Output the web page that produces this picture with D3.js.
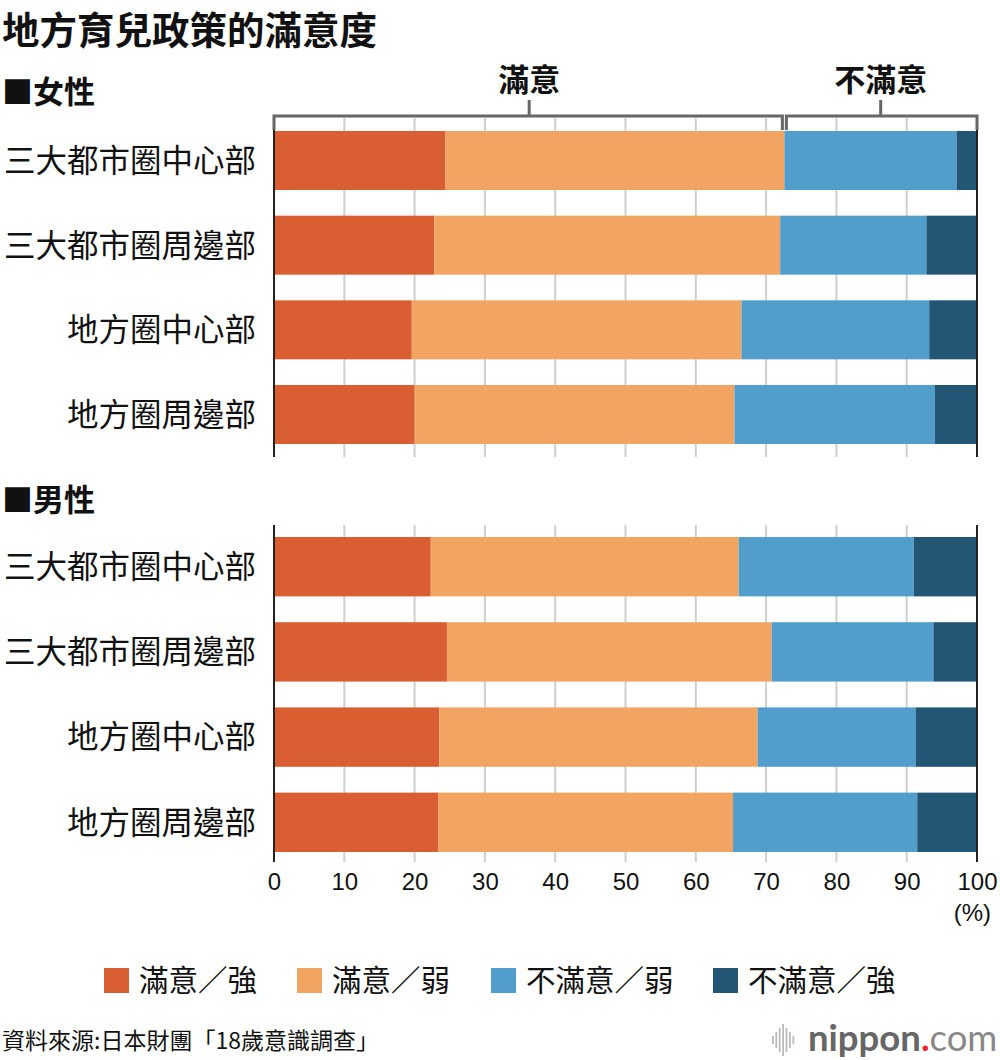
<!DOCTYPE html>
<html>
<head>
<meta charset="utf-8">
<script src="https://cdn.jsdelivr.net/npm/d3@7"></script>
<style>
  body { margin: 0; background: #fff; }
  svg { display: block; font-family: "Noto Sans CJK TC", "Noto Sans", sans-serif; }
  .num { font-family: "Liberation Sans", Arial, sans-serif; }
</style>
</head>
<body>
<svg id="chart" width="1000" height="1060"></svg>
<script>
// data (percent)
var categories = ["三大都市圈中心部", "三大都市圈周邊部", "地方圈中心部", "地方圈周邊部"];
var seriesNames = ["滿意／強", "滿意／弱", "不滿意／弱", "不滿意／強"];
var colors = ["#d95f33", "#f2a463", "#519dcb", "#235675"];
var femaleStrongSat = [24.4, 22.8, 19.6, 20.0];
var femaleWeakSat   = [48.2, 49.2, 46.9, 45.5];
var femaleWeakDis   = [24.5, 20.8, 26.7, 28.5];
var femaleStrongDis = [2.9, 7.2, 6.8, 6.0];
var maleStrongSat = [22.3, 24.6, 23.5, 23.4];
var maleWeakSat   = [43.8, 46.2, 45.3, 41.9];
var maleWeakDis   = [24.9, 23.0, 22.5, 26.2];
var maleStrongDis = [9.0, 6.2, 8.7, 8.5];
var xTicks = [0, 10, 20, 30, 40, 50, 60, 70, 80, 90, 100];

var svg = d3.select("#chart");
var x = d3.scaleLinear().domain([0, 100]).range([274, 977]);

function toRows(a, b, c, d) {
  return categories.map(function(cat, i) {
    return { cat: cat, vals: [a[i], b[i], c[i], d[i]] };
  });
}

var groups = [
  { title: "■女性", titleY: 103, barTop: 131, barBottom: 444, gridTop: 118, gridBottom: 457,
    rows: toRows(femaleStrongSat, femaleWeakSat, femaleWeakDis, femaleStrongDis) },
  { title: "■男性", titleY: 511, barTop: 537, barBottom: 852, gridTop: 525, gridBottom: 862,
    rows: toRows(maleStrongSat, maleWeakSat, maleWeakDis, maleStrongDis) }
];

// title
svg.append("text").attr("x", 2).attr("y", 44)
  .attr("font-size", 37.5).attr("font-weight", "bold").attr("fill", "#111")
  .text("地方育兒政策的滿意度");

groups.forEach(function(g) {
  var y = d3.scaleBand().domain(categories)
    .range([g.barTop, g.barBottom]).paddingInner(0.303).paddingOuter(0);

  svg.append("text").attr("x", 2).attr("y", g.titleY)
    .attr("font-size", 31).attr("font-weight", "bold").attr("fill", "#111")
    .text(g.title);

  // grid
  svg.append("g").selectAll("line").data(xTicks.slice(1, -1)).enter().append("line")
    .attr("x1", function(d) { return x(d); }).attr("x2", function(d) { return x(d); })
    .attr("y1", g.gridTop).attr("y2", g.gridBottom)
    .attr("stroke", "#cfcfcf").attr("stroke-width", 2);

  // bars
  var row = svg.append("g").selectAll("g").data(g.rows).enter().append("g");
  row.selectAll("rect").data(function(r) {
      var acc = 0;
      return r.vals.map(function(v, k) {
        var s = { cat: r.cat, x0: acc, x1: acc + v, k: k };
        acc += v;
        return s;
      });
    }).enter().append("rect")
    .attr("x", function(d) { return x(d.x0); })
    .attr("width", function(d) { return x(Math.min(d.x1, 100)) - x(d.x0); })
    .attr("y", function(d) { return y(d.cat); })
    .attr("height", y.bandwidth())
    .attr("fill", function(d) { return colors[d.k]; });

  row.append("text")
    .attr("x", 256).attr("y", function(r) { return y(r.cat) + y.bandwidth() / 2; })
    .attr("dy", "0.36em").attr("text-anchor", "end")
    .attr("font-size", 31.5).attr("fill", "#111")
    .text(function(r) { return r.cat; });

  // edge lines
  svg.append("g").selectAll("line").data([0, 100]).enter().append("line")
    .attr("x1", function(d) { return x(d); }).attr("x2", function(d) { return x(d); })
    .attr("y1", g.gridTop).attr("y2", g.gridBottom)
    .attr("stroke", "#222").attr("stroke-width", 2);
});

// bracket over female first row
var split = femaleStrongSat[0] + femaleWeakSat[0];
var brackets = [
  { label: "滿意", x0: 0, x1: split, dx0: 0, dx1: -2 },
  { label: "不滿意", x0: split, x1: 100, dx0: 2, dx1: 0 }
];
var bg = svg.append("g").selectAll("g").data(brackets).enter().append("g");
bg.append("path")
  .attr("d", function(b) {
    var a = x(b.x0) + b.dx0, c = x(b.x1) + b.dx1;
    return "M" + a + ",130V116H" + c + "V130";
  })
  .attr("fill", "none").attr("stroke", "#666").attr("stroke-width", 3);
bg.append("line")
  .attr("x1", function(b) { return (x(b.x0) + x(b.x1)) / 2; })
  .attr("x2", function(b) { return (x(b.x0) + x(b.x1)) / 2; })
  .attr("y1", 116).attr("y2", 100)
  .attr("stroke", "#666").attr("stroke-width", 3);
bg.append("text")
  .attr("x", function(b) { return (x(b.x0) + x(b.x1)) / 2; })
  .attr("y", 91).attr("text-anchor", "middle")
  .attr("font-size", 31).attr("font-weight", "bold").attr("fill", "#111")
  .text(function(b) { return b.label; });

// x axis
var axis = svg.append("g").attr("transform", "translate(0,852)")
  .call(d3.axisBottom(x).tickValues(xTicks).tickSize(0).tickPadding(21));
axis.select(".domain").remove();
axis.selectAll("text").attr("class", "num").attr("font-size", 24).attr("fill", "#111");
svg.append("text").attr("class", "num").attr("x", 991).attr("y", 921)
  .attr("text-anchor", "end").attr("font-size", 24).attr("fill", "#111").text("(%)");

// legend
var legendX = [104, 297, 491, 713];
var lg = svg.append("g").selectAll("g").data(seriesNames).enter().append("g")
  .attr("transform", function(d, i) { return "translate(" + legendX[i] + ",968)"; });
lg.append("rect").attr("width", 25).attr("height", 25)
  .attr("fill", function(d, i) { return colors[i]; });
lg.append("text").attr("x", 35).attr("y", 12.5).attr("dy", "0.36em")
  .attr("font-size", 29.5).attr("fill", "#111").text(function(d) { return d; });

// source
svg.append("text").attr("x", 2).attr("y", 1049)
  .attr("font-size", 23).attr("fill", "#111")
  .text("資料來源:日本財團「18歲意識調查」");

// logo
var logoBars = [4, 8, 12, 16, 12, 8, 4];
svg.append("g").selectAll("rect").data(logoBars).enter().append("rect")
  .attr("x", function(d, i) { return 772 + i * 3.4; })
  .attr("y", function(d) { return 1040 - d; })
  .attr("width", 1.8).attr("height", function(d) { return d * 2; })
  .attr("fill", "#bbb");
var logo = svg.append("text").attr("x", 808).attr("y", 1051)
  .attr("font-family", "Lato, 'Open Sans', sans-serif").attr("font-size", 36.5);
logo.append("tspan").attr("fill", "#666").attr("font-weight", "bold").text("nippon");
logo.append("tspan").attr("fill", "#e8262a").attr("font-weight", "bold").text(".");
logo.append("tspan").attr("fill", "#888").text("com");
</script>
</body>
</html>
